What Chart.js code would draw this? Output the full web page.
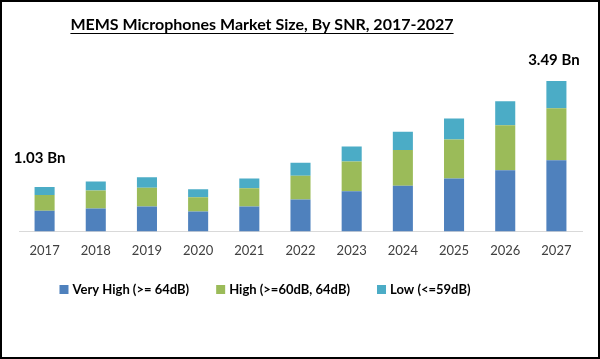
<!DOCTYPE html>
<html>
<head>
<meta charset="utf-8">
<script src="https://cdn.jsdelivr.net/npm/chart.js@4.4.0/dist/chart.umd.min.js"></script>
<style>
  html, body { margin: 0; padding: 0; background: #fff; }
</style>
</head>
<body>
<canvas id="mems-chart" width="600" height="359"></canvas>
<script>
// data (USD Bn)
const years = ["2017", "2018", "2019", "2020", "2021", "2022", "2023", "2024", "2025", "2026", "2027"];
const veryHigh = [0.48, 0.53, 0.58, 0.46, 0.58, 0.74, 0.93, 1.06, 1.23, 1.42, 1.65];
const high = [0.365, 0.42, 0.435, 0.33, 0.42, 0.55, 0.69, 0.83, 0.90, 1.04, 1.21];
const low = [0.185, 0.21, 0.24, 0.19, 0.23, 0.30, 0.35, 0.42, 0.49, 0.56, 0.63];
const seriesNames = ["Very High (>= 64dB)", "High (>=60dB, 64dB)", "Low (<=59dB)"];
const seriesColors = ["#4f81bd", "#9bbb59", "#4bacc6"];
const chartTitle = "MEMS Microphones Market Size, By SNR, 2017-2027";
const firstNote = "1.03 Bn";
const lastNote = "3.49 Bn";

const fontName = "Lato, 'Open Sans', sans-serif";

// title, notes, legend and frame
const extras = {
  id: "extras",
  afterDraw(chart) {
    const ctx = chart.ctx;
    ctx.save();

    // frame
    ctx.strokeStyle = "#000";
    ctx.lineWidth = 2;
    ctx.strokeRect(1, 1, 598, 357);

    // title with underline
    ctx.fillStyle = "#000";
    ctx.font = "bold 16px " + fontName;
    ctx.textAlign = "center";
    ctx.textBaseline = "alphabetic";
    ctx.fillText(chartTitle, 262, 30);
    const tw = ctx.measureText(chartTitle).width;
    ctx.lineWidth = 1;
    ctx.beginPath();
    ctx.moveTo(262 - tw / 2, 33.5);
    ctx.lineTo(262 + tw / 2, 33.5);
    ctx.stroke();

    // notes above first and last bars
    const top = chart.getDatasetMeta(2).data;
    ctx.font = "bold 15px " + fontName;
    ctx.textBaseline = "middle";
    const b0 = top[0];
    ctx.fillText(firstNote, b0.x - 5, b0.y - 29);
    const bl = top[top.length - 1];
    ctx.fillText(lastNote, bl.x - 2.5, bl.y - 21);

    // legend
    ctx.font = "bold 13px " + fontName;
    const box = 9, gapBox = 4, gapItem = 27;
    const widths = seriesNames.map(n => ctx.measureText(n).width);
    let total = 0;
    widths.forEach((w, i) => { total += box + gapBox + w + (i ? gapItem : 0); });
    let x = 265 - total / 2;
    const ly = 289.5;
    ctx.textAlign = "left";
    seriesNames.forEach((n, i) => {
      ctx.fillStyle = seriesColors[i];
      ctx.fillRect(x, ly - box / 2, box, box);
      ctx.fillStyle = "#000";
      ctx.fillText(n, x + box + gapBox, ly);
      x += box + gapBox + widths[i] + gapItem;
    });

    ctx.restore();
  }
};

const ctxBar = document.querySelector("#mems-chart").getContext("2d");

const memsChart = new Chart(ctxBar, {
  type: "bar",
  data: {
    labels: years,
    datasets: [
      { label: seriesNames[0], data: veryHigh, backgroundColor: seriesColors[0] },
      { label: seriesNames[1], data: high, backgroundColor: seriesColors[1] },
      { label: seriesNames[2], data: low, backgroundColor: seriesColors[2] },
    ],
  },
  options: {
    responsive: false,
    animation: false,
    devicePixelRatio: 1,
    barPercentage: 0.49,
    categoryPercentage: 0.8,
    layout: { padding: { left: 19, right: 18, top: 59, bottom: 88 } },
    plugins: {
      legend: { display: false },
      title: { display: false },
      tooltip: { enabled: false },
    },
    scales: {
      x: {
        stacked: true,
        grid: { display: false, drawTicks: false },
        border: { color: "#d9d9d9", width: 1 },
        ticks: { color: "#404040", font: { family: fontName, size: 13 }, padding: 12 },
      },
      y: {
        stacked: true,
        display: false,
        min: 0,
        max: 4,
      },
    },
  },
  plugins: [extras],
});
</script>
</body>
</html>
